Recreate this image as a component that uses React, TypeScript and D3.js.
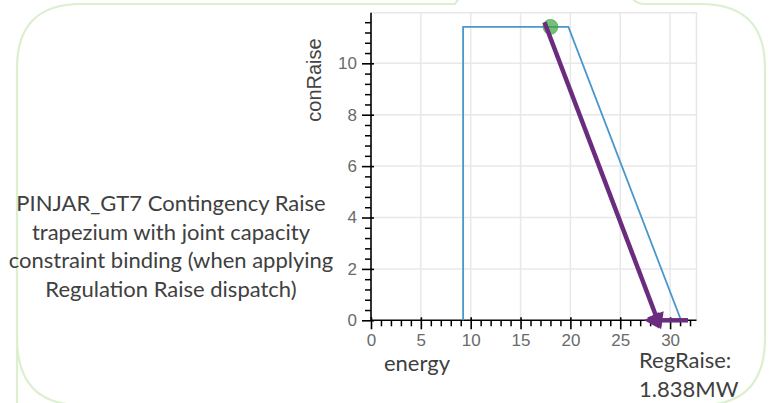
import React, { useEffect, useRef } from 'react';
import * as d3 from 'd3';

// trapezium (energy vs contingency raise)
const trapEnergy = [9.24, 9.24, 19.8, 31.1];
const trapConRaise = [0, 11.42, 11.42, 0];

// dispatch point
const pointEnergy = [18.0];
const pointConRaise = [11.42];

// annotation arrows
const slopeArrowEnergy = [17.4, 29.1];
const slopeArrowConRaise = [11.6, -0.35];
const regArrowEnergy = [31.8, 27.4];
const regArrowConRaise = [0, 0];

const xTickValues = [0, 5, 10, 15, 20, 25, 30];
const yTickValues = [0, 2, 4, 6, 8, 10];

const noteLines = [
    'PINJAR_GT7 Contingency Raise',
    'trapezium with joint capacity',
    'constraint binding (when applying',
    'Regulation Raise dispatch)',
];
const regLines = ['RegRaise:', '1.838MW'];

const App: React.FC = () => {
    const ref = useRef<SVGSVGElement>(null);
    const width = 769;
    const height = 403;
    const plot = { left: 371, top: 12.7, right: 696.5, bottom: 320.3 };

    useEffect(() => {
        drawChart();
        //eslint-disable-next-line
    }, []);

    const drawChart = () => {
        const svg = d3.select(ref.current);
        svg.selectAll('*').remove();

        svg.append('rect').attr('width', width).attr('height', height).attr('fill', '#fff');

        // slide shapes behind
        const shapeColor = '#dcefcf';
        const r = 64;
        svg.append('path')
            .attr('d', `M17,${height + 2} L17,${4 + r} Q17,4 ${17 + r},4 L455,4 L459,-2`)
            .attr('fill', 'none').attr('stroke', shapeColor).attr('stroke-width', 2.2);
        svg.append('path')
            .attr('d', `M17,${4 + r} L17,${338} Q17,${height + 2} ${17 + r},${height + 2}`)
            .attr('fill', 'none').attr('stroke', shapeColor).attr('stroke-width', 2.2);
        svg.append('path')
            .attr('d', `M633,-1 Q637,4 645,4 L${765 - r},4 Q765,4 765,${4 + r} L765,338 Q765,${height + 2} ${765 - r},${height + 2}`)
            .attr('fill', 'none').attr('stroke', shapeColor).attr('stroke-width', 2.2);

        const x = d3.scaleLinear().domain([0, 32.65]).range([plot.left, plot.right]);
        const y = d3.scaleLinear().domain([0, 11.97]).range([plot.bottom, plot.top]);

        const g = svg.append('g');

        // grid
        g.append('g').selectAll('line').data(xTickValues.slice(1)).enter().append('line')
            .attr('x1', d => x(d)).attr('x2', d => x(d))
            .attr('y1', plot.top).attr('y2', plot.bottom)
            .attr('stroke', '#e8e8e8').attr('stroke-width', 1.5);
        g.append('g').selectAll('line').data(yTickValues.slice(1)).enter().append('line')
            .attr('x1', plot.left).attr('x2', plot.right)
            .attr('y1', d => y(d)).attr('y2', d => y(d))
            .attr('stroke', '#e8e8e8').attr('stroke-width', 1.5);
        // outline
        g.append('path')
            .attr('d', `M${plot.left},${plot.top} L${plot.right},${plot.top} L${plot.right},${plot.bottom}`)
            .attr('fill', 'none').attr('stroke', '#e8e8e8').attr('stroke-width', 1.5);

        // minor ticks
        const xMinor = d3.range(0, 33, 1).filter(v => v % 5 !== 0);
        const yMinor = d3.range(0, 11.99, 0.4).filter(v => Math.abs(v / 2 - Math.round(v / 2)) > 0.01);
        g.append('g').attr('transform', `translate(0,${plot.bottom})`)
            .call(d3.axisBottom(x).tickValues(xMinor).tickSize(6).tickFormat(() => ''))
            .call(a => a.select('.domain').remove())
            .call(a => a.selectAll('line').attr('stroke', '#000').attr('stroke-width', 1.5));
        g.append('g').attr('transform', `translate(${plot.left},0)`)
            .call(d3.axisLeft(y).tickValues(yMinor).tickSize(6).tickFormat(() => ''))
            .call(a => a.select('.domain').remove())
            .call(a => a.selectAll('line').attr('stroke', '#000').attr('stroke-width', 1.5));

        // major axes
        const tickFont = 'Liberation Sans, Arial, sans-serif';
        const xAxis = g.append('g').attr('transform', `translate(0,${plot.bottom})`)
            .call(d3.axisBottom(x).tickValues(xTickValues).tickSizeInner(9).tickSizeOuter(0).tickPadding(5).tickFormat(d3.format('d')));
        xAxis.select('.domain').attr('d', `M${plot.left},0H${plot.right}`).attr('stroke', '#000').attr('stroke-width', 1.6);
        xAxis.selectAll('.tick line').attr('y1', -3).attr('stroke', '#000').attr('stroke-width', 1.6);
        xAxis.selectAll('.tick text').attr('fill', '#6a6a6a').attr('font-size', 17)
            .attr('font-family', tickFont);

        const yAxis = g.append('g').attr('transform', `translate(${plot.left},0)`)
            .call(d3.axisLeft(y).tickValues(yTickValues).tickSizeInner(9).tickSizeOuter(0).tickPadding(5).tickFormat(d3.format('d')));
        yAxis.select('.domain').attr('d', `M0,${plot.top}V${plot.bottom}`).attr('stroke', '#000').attr('stroke-width', 1.6);
        yAxis.selectAll('.tick line').attr('x1', 3).attr('stroke', '#000').attr('stroke-width', 1.6);
        yAxis.selectAll('.tick text').attr('fill', '#6a6a6a').attr('font-size', 17)
            .attr('font-family', tickFont);

        // axis label
        svg.append('text')
            .attr('transform', `translate(321,80) rotate(-90)`)
            .attr('text-anchor', 'middle')
            .attr('font-family', tickFont)
            .attr('font-size', 20).attr('fill', '#444')
            .text('conRaise');

        // trapezium
        const line = d3.line<number>().x(i => x(trapEnergy[i])).y(i => y(trapConRaise[i]));
        g.append('path')
            .datum(d3.range(trapEnergy.length))
            .attr('d', line)
            .attr('fill', 'none').attr('stroke', '#4a97cc').attr('stroke-width', 1.8);

        // dispatch point
        g.selectAll('.pt').data(pointEnergy).enter().append('circle')
            .attr('class', 'pt')
            .attr('cx', d => x(d)).attr('cy', (_, i) => y(pointConRaise[i]))
            .attr('r', 7.5)
            .attr('fill', '#3aa53a').attr('fill-opacity', 0.7)
            .attr('stroke', '#3aa53a').attr('stroke-opacity', 0.5);

        // arrows
        const purple = '#6b2c7f';
        const drawArrow = (ex: number[], ey: number[], head: number) => {
            const x0 = x(ex[0]), y0 = y(ey[0]), x1 = x(ex[1]), y1 = y(ey[1]);
            const ang = Math.atan2(y1 - y0, x1 - x0);
            const bx = x1 - Math.cos(ang) * head, by = y1 - Math.sin(ang) * head;
            g.append('line')
                .attr('x1', x0).attr('y1', y0).attr('x2', bx + Math.cos(ang) * 2).attr('y2', by + Math.sin(ang) * 2)
                .attr('stroke', purple).attr('stroke-width', 4.5);
            const w = head * 0.55;
            const px = -Math.sin(ang), py = Math.cos(ang);
            g.append('path')
                .attr('d', `M${x1},${y1} L${bx + px * w},${by + py * w} L${bx - px * w},${by - py * w} Z`)
                .attr('fill', purple);
        };
        drawArrow(slopeArrowEnergy, slopeArrowConRaise, 16);
        drawArrow(regArrowEnergy, regArrowConRaise, 15);

        // slide text
        const textFont = 'Lato, Carlito, Calibri, sans-serif';
        svg.append('g').selectAll('text').data(noteLines).enter().append('text')
            .attr('x', 171).attr('y', (_, i) => 211 + i * 28.7)
            .attr('text-anchor', 'middle')
            .attr('font-family', textFont).attr('font-size', 22).attr('fill', '#404040')
            .text(d => d);

        svg.append('text')
            .attr('x', 417).attr('y', 371)
            .attr('text-anchor', 'middle')
            .attr('font-family', textFont).attr('font-size', 22).attr('fill', '#404040')
            .text('energy');

        svg.append('g').selectAll('text').data(regLines).enter().append('text')
            .attr('x', 639).attr('y', (_, i) => 368 + i * 29)
            .attr('font-family', textFont).attr('font-size', 22).attr('fill', '#404040')
            .text(d => d);
    };

    return (
        <svg ref={ref} width={width} height={height}
            style={{ position: 'absolute', left: 0, top: 0 }}></svg>
    );
};

export default App;
